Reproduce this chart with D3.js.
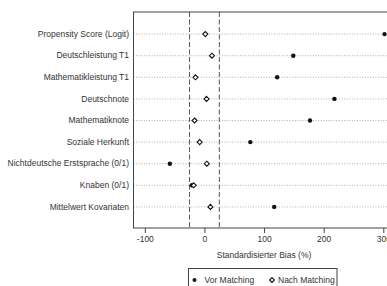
<!DOCTYPE html>
<html>
<head>
<meta charset="utf-8">
<script src="https://cdn.jsdelivr.net/npm/d3@7"></script>
<style>
	body { margin: 0; background: #fff; }
	svg { display: block; font-family: "Liberation Sans", Arial, sans-serif; }
</style>
</head>
<body>
<div id="chart"></div>
<script>
var categories = [
	'Propensity Score (Logit)',
	'Deutschleistung T1',
	'Mathematikleistung T1',
	'Deutschnote',
	'Mathematiknote',
	'Soziale Herkunft',
	'Nichtdeutsche Erstsprache (0/1)',
	'Knaben (0/1)',
	'Mittelwert Kovariaten'
];
var vor_matching  = [ 302, 149, 122, 218, 177, 77, -58, -21, 117 ];
var nach_matching = [ 1.5, 12.5, -15, 3.5, -16.5, -8, 4, -18, 10 ];
var x_ticks = [ -100, 0, 100, 200, 300 ];
var ref_lines = [ -25, 25 ];
var legend_labels = [ 'Vor Matching', 'Nach Matching' ];

var chart_width  = 387;
var chart_height = 286;
var left = 133.5, top_y = 12, bottom_y = 228, right = 400;

var svg = d3.select('#chart')
	.append('svg')
	.attr('width', chart_width)
	.attr('height', chart_height);

// scales
var x_scale = d3.scaleLinear()
	.domain([-119, 328])
	.range([left, right]);

var y_scale = d3.scalePoint()
	.domain(categories)
	.range([33.6, 206.4]);

// dotted guide lines
svg.append('g')
	.selectAll('line')
	.data(categories)
	.enter()
	.append('line')
	.attr('x1', left)
	.attr('x2', right)
	.attr('y1', function(d){ return y_scale(d) + 0.5; })
	.attr('y2', function(d){ return y_scale(d) + 0.5; })
	.attr('stroke', '#9a9a9a')
	.attr('stroke-width', 0.8)
	.attr('stroke-dasharray', '1,1.6');

// dashed reference lines
svg.append('g')
	.selectAll('line')
	.data(ref_lines)
	.enter()
	.append('line')
	.attr('x1', function(d){ return x_scale(d); })
	.attr('x2', function(d){ return x_scale(d); })
	.attr('y1', top_y)
	.attr('y2', bottom_y)
	.attr('stroke', '#555')
	.attr('stroke-width', 1)
	.attr('stroke-dasharray', '5,2.5');

// box
svg.append('rect')
	.attr('x', left)
	.attr('y', top_y)
	.attr('width', right - left)
	.attr('height', bottom_y - top_y)
	.attr('fill', 'none')
	.attr('stroke', '#444')
	.attr('stroke-width', 1);

// axes
var x_axis = d3.axisBottom(x_scale)
	.tickValues(x_ticks)
	.tickSize(5)
	.tickPadding(3)
	.tickFormat(function(d){ return d < 0 ? '-' + Math.abs(d) : d; });

var gx = svg.append('g')
	.attr('transform', 'translate(0,' + bottom_y + ')')
	.call(x_axis);
gx.select('.domain').remove();
gx.selectAll('line').attr('stroke', '#444');
gx.selectAll('text').attr('font-size', '8.5px').attr('fill', '#333').attr('font-family', null);

var y_axis = d3.axisLeft(y_scale)
	.tickSize(0)
	.tickPadding(4.5);

var gy = svg.append('g')
	.attr('transform', 'translate(' + left + ',0)')
	.call(y_axis);
gy.select('.domain').remove();
gy.selectAll('text').attr('font-size', '8.5px').attr('fill', '#333').attr('font-family', null);

// axis title
svg.append('text')
	.attr('x', x_scale(100))
	.attr('y', 258)
	.attr('text-anchor', 'middle')
	.attr('font-size', '8.5px')
	.attr('fill', '#333')
	.text('Standardisierter Bias (%)');

function diamond(cx, cy, r){
	return 'M' + cx + ',' + (cy - r) + 'L' + (cx + r) + ',' + cy +
		'L' + cx + ',' + (cy + r) + 'L' + (cx - r) + ',' + cy + 'Z';
}

// vor matching points
svg.append('g')
	.selectAll('circle')
	.data(vor_matching)
	.enter()
	.append('circle')
	.attr('cx', function(d){ return x_scale(d); })
	.attr('cy', function(d, i){ return y_scale(categories[i]) + 0.5; })
	.attr('r', 2.2)
	.attr('fill', '#111');

// nach matching points
svg.append('g')
	.selectAll('path')
	.data(nach_matching)
	.enter()
	.append('path')
	.attr('d', function(d, i){ return diamond(x_scale(d), y_scale(categories[i]) + 0.5, 2.5); })
	.attr('fill', '#fff')
	.attr('stroke', '#111')
	.attr('stroke-width', 1.1);

// legend
var lg = svg.append('g');
lg.append('rect')
	.attr('x', 188.5)
	.attr('y', 268.5)
	.attr('width', 148.5)
	.attr('height', 30)
	.attr('fill', 'none')
	.attr('stroke', '#444')
	.attr('stroke-width', 1);
lg.append('circle')
	.attr('cx', 194.5)
	.attr('cy', 280)
	.attr('r', 2)
	.attr('fill', '#111');
lg.append('path')
	.attr('d', diamond(272, 280, 2.4))
	.attr('fill', '#fff')
	.attr('stroke', '#111')
	.attr('stroke-width', 1.1);
lg.selectAll('text')
	.data(legend_labels)
	.enter()
	.append('text')
	.attr('x', function(d, i){ return i == 0 ? 204.5 : 278; })
	.attr('y', 283)
	.attr('font-size', '8.5px')
	.attr('fill', '#333')
	.text(function(d){ return d; });
</script>
</body>
</html>
